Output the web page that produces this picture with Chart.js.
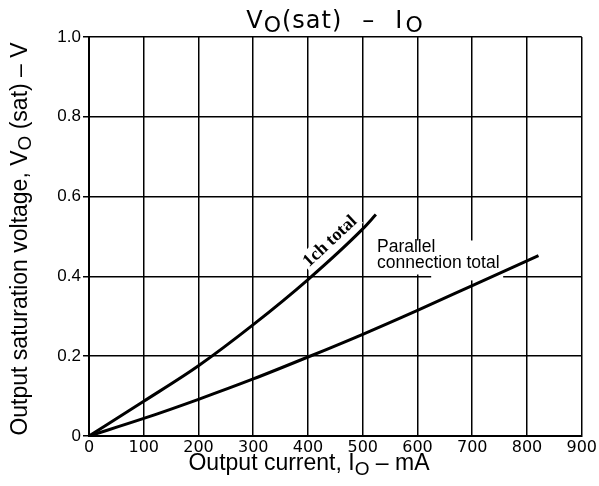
<!DOCTYPE html>
<html>
<head>
<meta charset="utf-8">
<script src="https://cdn.jsdelivr.net/npm/chart.js@4/dist/chart.umd.min.js"></script>
<style>
  body { margin: 0; background: #fff; }
</style>
</head>
<body>
<canvas id="myChart" width="599" height="486"></canvas>
<script>
// values
const currentTicks = [0, 100, 200, 300, 400, 500, 600, 700, 800, 900];
const voltageTicks = [0, 0.2, 0.4, 0.6, 0.8, 1.0];
const oneChCurrent = [0, 100, 200, 300, 400, 500, 524];
const oneChVoltage = [0, 0.087, 0.176, 0.279, 0.392, 0.519, 0.555];
const parallelCurrent = [0, 100, 200, 300, 400, 500, 600, 700, 821];
const parallelVoltage = [0, 0.044, 0.092, 0.143, 0.198, 0.255, 0.315, 0.377, 0.452];

const sans = "'Liberation Sans', Arial, sans-serif";
const roundSans = "'DejaVu Sans', sans-serif";
const serif = "'Liberation Serif', 'Times New Roman', serif";

// draws a run of text pieces, some subscripted, some just a gap
function drawParts(ctx, parts, family, size, subSize, subDrop, x, y, angle, spacing) {
    ctx.save();
    ctx.translate(x, y);
    ctx.rotate(angle);
    ctx.fillStyle = "#000";
    ctx.textAlign = "left";
    ctx.textBaseline = "alphabetic";
    let total = 0;
    parts.forEach((p) => {
        if (p.gap) {
            p.w = p.gap;
        } else {
            ctx.font = (p.sub ? subSize : size) + "px " + family;
            p.w = ctx.measureText(p.t).width + spacing * p.t.length;
        }
        total += p.w;
    });
    let cx = -total / 2;
    parts.forEach((p) => {
        if (!p.gap) {
            ctx.font = (p.sub ? subSize : size) + "px " + family;
            let lx = cx;
            for (const ch of p.t) {
                ctx.fillText(ch, lx, p.sub ? subDrop : 0);
                lx += ctx.measureText(ch).width + spacing;
            }
        }
        cx += p.w;
    });
    ctx.restore();
}

const labelsPlugin = {
    id: "labels",
    beforeDatasetsDraw(chart) {
        const ctx = chart.ctx;
        const x = chart.scales.x;
        const y = chart.scales.y;
        ctx.save();
        ctx.fillStyle = "#fff";
        // gap in grid behind "Parallel connection total"
        const px = x.getPixelForValue(526);
        ctx.fillRect(px - 4, y.getPixelForValue(0.49), 130, 34);
        ctx.fillRect(x.getPixelForValue(625), y.getPixelForValue(0.42), 72, 12);
        // gap behind "1ch total"
        ctx.translate(x.getPixelForValue(402), y.getPixelForValue(0.422));
        ctx.rotate(-43 * Math.PI / 180);
        ctx.fillRect(-2, -15, 72, 19);
        ctx.restore();
    },
    afterDraw(chart) {
        const ctx = chart.ctx;
        const x = chart.scales.x;
        const y = chart.scales.y;

        drawParts(ctx, [{ t: "V" }, { t: "O", sub: true }, { t: "(sat)" }, { gap: 20 }, { t: "\u2013" },
            { gap: 20 }, { t: "I" }, { gap: 2 }, { t: "O", sub: true }],
            roundSans, 24, 22, 4, 335, 28, 0, 1);

        drawParts(ctx, [{ t: "Output saturation voltage, V" }, { t: "O", sub: true }, { t: " (sat) \u2013 V" }],
            sans, 23, 19, 4, 27, 239, -Math.PI / 2, 0);

        drawParts(ctx, [{ t: "Output current, I" }, { t: "O", sub: true }, { t: " \u2013 mA" }],
            sans, 23, 19, 5, 309, 470, 0, 0);

        ctx.save();
        ctx.fillStyle = "#000";
        ctx.font = "17.5px " + sans;
        ctx.fillText("Parallel", x.getPixelForValue(526), y.getPixelForValue(0.461));
        ctx.fillText("connection total", x.getPixelForValue(526), y.getPixelForValue(0.421));
        ctx.translate(x.getPixelForValue(402), y.getPixelForValue(0.422));
        ctx.rotate(-43 * Math.PI / 180);
        ctx.font = "bold 18px " + serif;
        ctx.fillText("1ch total", 0, 0);
        ctx.restore();
    },
};

let ctx = document.getElementById("myChart");
let myChart = new Chart(ctx, {
    type: "line",
    data: {
        datasets: [
            {
                label: "1ch total",
                data: oneChCurrent.map((c, i) => ({ x: c, y: oneChVoltage[i] })),
                borderColor: "#000",
                borderWidth: 3,
                pointRadius: 0,
                cubicInterpolationMode: "monotone",
            },
            {
                label: "Parallel connection total",
                data: parallelCurrent.map((c, i) => ({ x: c, y: parallelVoltage[i] })),
                borderColor: "#000",
                borderWidth: 3,
                pointRadius: 0,
                cubicInterpolationMode: "monotone",
            },
        ],
    },
    options: {
        responsive: false,
        animation: false,
        events: [],
        layout: {
            padding: { top: 37, right: 16, left: 0, bottom: 0 },
        },
        plugins: {
            legend: { display: false },
            tooltip: { enabled: false },
        },
        scales: {
            x: {
                type: "linear",
                min: 0,
                max: 900,
                afterBuildTicks: (scale) => {
                    scale.ticks = currentTicks.map((v) => ({ value: v }));
                },
                afterFit: (scale) => {
                    scale.height = 50;
                },
                grid: { color: "#000", lineWidth: 1.5, drawTicks: false },
                border: { display: true, color: "#000", width: 2 },
                ticks: {
                    color: "#000",
                    padding: 2,
                    maxRotation: 0,
                    font: { family: roundSans, size: 16 },
                },
            },
            y: {
                type: "linear",
                min: 0,
                max: 1,
                afterBuildTicks: (scale) => {
                    scale.ticks = voltageTicks.map((v) => ({ value: v }));
                },
                afterFit: (scale) => {
                    scale.width = 89;
                },
                grid: { color: "#000", lineWidth: 1.5, tickLength: 6 },
                border: { display: true, color: "#000", width: 2 },
                ticks: {
                    color: "#000",
                    padding: 2,
                    font: { family: sans, size: 17 },
                    callback: (v) => (v == 0 ? "0" : v.toFixed(1)),
                },
            },
        },
    },
    plugins: [labelsPlugin],
});
</script>
</body>
</html>
